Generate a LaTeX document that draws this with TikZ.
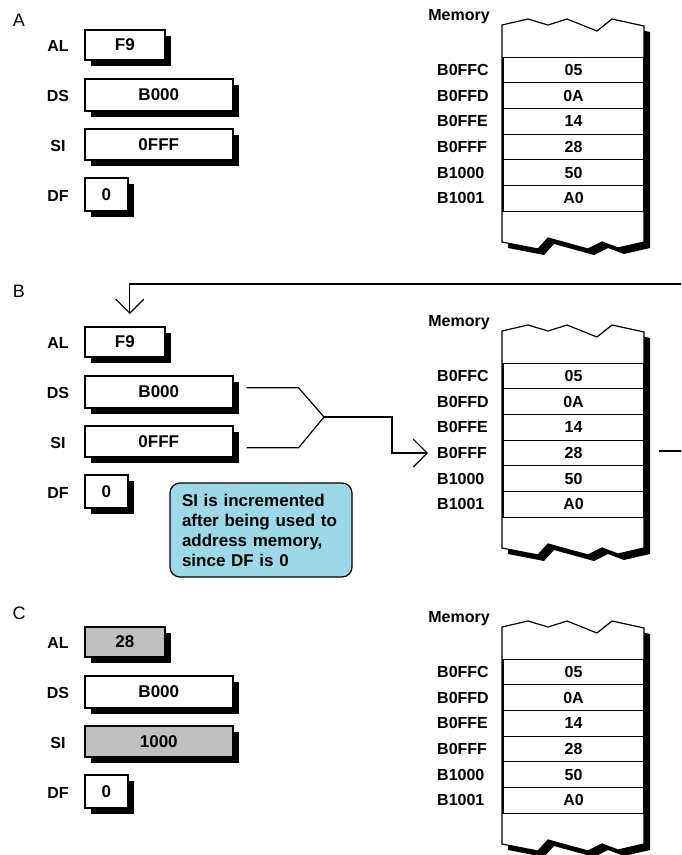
\documentclass[tikz,border=0pt]{standalone}
\usepackage{fontspec}
\setmainfont{Liberation Sans}
\usetikzlibrary{positioning,arrows.meta,shadows}

\definecolor{noteblue}{RGB}{157,216,232}
\definecolor{hlgray}{RGB}{192,192,192}

\begin{document}
\begin{tikzpicture}[
  x=1pt, y=-1pt,
  font=\fontsize{16}{19}\selectfont\bfseries,
  reg/.style={draw,line width=1.6pt,inner sep=0pt,anchor=north west,
    font=\fontsize{17}{20}\selectfont\bfseries,
    drop shadow={shadow xshift=6pt,shadow yshift=-6pt,fill=black,opacity=1}},
  memrow/.style={draw,line width=1.1pt,minimum width=141pt,minimum height=25.7pt,inner sep=0pt},
  addr/.style={anchor=west,inner sep=0pt},
  panel/.style={font=\fontsize{18}{20}\selectfont},
  shadowfill/.style={fill=black},
  memfill/.style={draw,line width=1.2pt,fill=white},
  conn/.style={line width=1.2pt},
  barb/.style={-{Straight Barb[length=14pt,width=28pt]}},
  note/.style={draw,line width=1.2pt,rounded corners=10pt,fill=noteblue,align=left,
    text width=158pt,inner xsep=12pt,minimum height=94pt,
    font=\fontsize{17}{20}\selectfont\bfseries},
]
\path[use as bounding box,clip] (0,0) rectangle (681,855);

\foreach \p/\ly/\ry/\my/\alv/\siv/\hl in {A/20/0/0/F9/0FFF/white,
    B/291/297/306/F9/0FFF/white, C/613/597/602/28/1000/hlgray} {
  \node[panel] (lbl\p) at (19,\ly) {\p};
  % registers
  \node (alname\p) at (58,46+\ry) {AL};
  \node (dsname\p) at (58,96+\ry) {DS};
  \node (siname\p) at (58,146+\ry) {SI};
  \node (dfname\p) at (58,196+\ry) {DF};
  \node[reg,fill=\hl,minimum width=80pt,minimum height=30pt] (al\p) at (84,29+\ry) {\alv};
  \node[reg,fill=white,minimum width=148pt,minimum height=32pt] (ds\p) at (84,78+\ry) {B000};
  \node[reg,fill=\hl,minimum width=148pt,minimum height=31pt] (si\p) at (84,128+\ry) {\siv};
  \node[reg,fill=white,minimum width=43pt,minimum height=33pt] (df\p) at (84,177+\ry) {0};
  % memory
  \begin{scope}[shift={(0,\my)}]
    \node (mem\p) at (459,17) {Memory};
    \foreach \dx/\st in {6/shadowfill,0/memfill}
      \path[\st,shift={(\dx,\dx)}] (502,25) -- (528,19) -- (548,25) -- (567,19)
        -- (597,31) -- (612,19) -- (644,26) -- (644,242) -- (618,248) -- (602,242)
        -- (588,249) -- (548,238) -- (538,249) -- (502,242) -- cycle;
    \foreach \a/\v [count=\i] in {B0FFC/05,B0FFD/0A,B0FFE/14,B0FFF/28,B1000/50,B1001/A0} {
      \node[memrow] (row\p\i) at (573.5,44.2+25.7*\i) {\v};
      \node[addr] (addr\p\i) at (437,44.2+25.7*\i) {\a};
    }
  \end{scope}
}

%% B: address formed from DS:SI, value returned to AL
\coordinate (joinB) at (324,417);
\draw[conn] ([xshift=13pt,yshift=4pt]dsB.east) -- ++(52,0) -- (joinB);
\draw[conn] ([xshift=13pt,yshift=-6.5pt]siB.east) -- ++(52,0) -- (joinB);
\draw[conn,barb] (joinB) -- ++(68,0) |- ([xshift=-9pt]addrB4.west);
\draw[conn,barb] ([xshift=14pt,yshift=2pt]rowB4.east) -- ++(40,0)
  |- ([xshift=5pt,yshift=42pt]alB.north) -- ([xshift=5pt,yshift=12pt]alB.north);

\node[note] (noteB) at (261,530) {SI is incremented\\after being used to\\address memory,\\since DF is 0};
\end{tikzpicture}
\end{document}
